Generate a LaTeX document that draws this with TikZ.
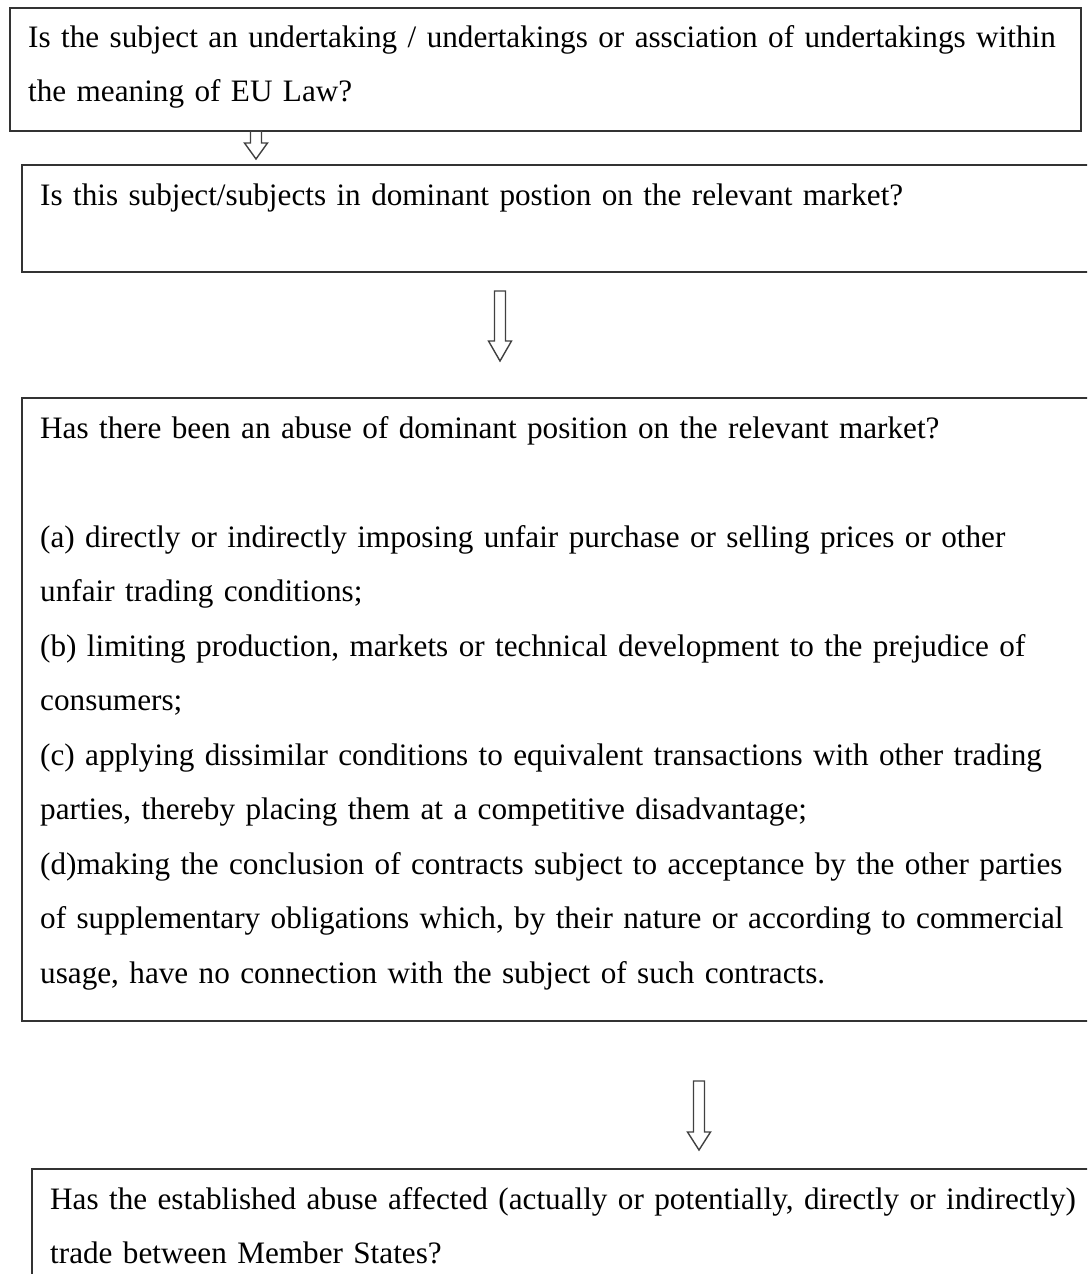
\documentclass[tikz,border=0pt]{standalone}
\usepackage{fontspec}
\setmainfont{Liberation Serif}

\tikzset{
  qbox/.style={draw=black!80, line width=1.6pt, anchor=north west, inner sep=0pt},
  qtext/.style={anchor=base west, inner sep=0pt, text width=1100pt, align=left,
    font=\fontsize{31.2}{54.5}\selectfont, text=black},
  arrowline/.style={draw=black!75, line width=1.4pt, line join=miter},
  pics/hollow arrow/.style args={#1/#2}{code={
    \draw[arrowline] (-5.5,0) -- (5.5,0) -- (5.5,#1) -- (11.5,#1) -- (0,#2)
      -- (-11.5,#1) -- (-5.5,#1) -- cycle;
  }}
}

\begin{document}
\begin{tikzpicture}[x=1pt, y=-1pt]
   \useasboundingbox (0,0) rectangle (1087,1274);
   \clip (0,0) rectangle (1087,1274);
   % boxes
   \node[qbox, minimum width=1071pt, minimum height=123pt] (q1) at (9,7) {};
   \node[qbox, minimum width=1090pt, minimum height=107pt] (q2) at (21,164) {};
   \node[qbox, minimum width=1090pt, minimum height=623pt] (q3) at (21,397) {};
   \node[qbox, minimum width=1090pt, minimum height=140pt] (q4) at (31,1168) {};
   % texts
   \node[qtext] (t1) at (28,47) {Is the subject an undertaking / undertakings or assciation of undertakings within\\
     the meaning of EU Law?};
   \node[qtext] (t2) at (40,205) {Is this subject/subjects in dominant postion on the relevant market?};
   \node[qtext] (t3) at (40,438) {Has there been an abuse of dominant position on the relevant market?\\[54.5pt]
     (a) directly or indirectly imposing unfair purchase or selling prices or other\\
     unfair trading conditions;\\
     (b) limiting production, markets or technical development to the prejudice of\\
     consumers;\\
     (c) applying dissimilar conditions to equivalent transactions with other trading\\
     parties, thereby placing them at a competitive disadvantage;\\
     (d)making the conclusion of contracts subject to acceptance by the other parties\\
     of supplementary obligations which, by their nature or according to commercial\\
     usage, have no connection with the subject of such contracts.};
   \node[qtext] (t4) at (50,1209) {Has the established abuse affected (actually or potentially, directly or indirectly)\\
     trade between Member States?};
   % arrows
   \pic (a1) at (256,131) {hollow arrow=12/28};
   \pic (a2) at (500,291) {hollow arrow=50/70};
   \pic (a3) at (699,1081) {hollow arrow=51/69};
\end{tikzpicture}
\end{document}
